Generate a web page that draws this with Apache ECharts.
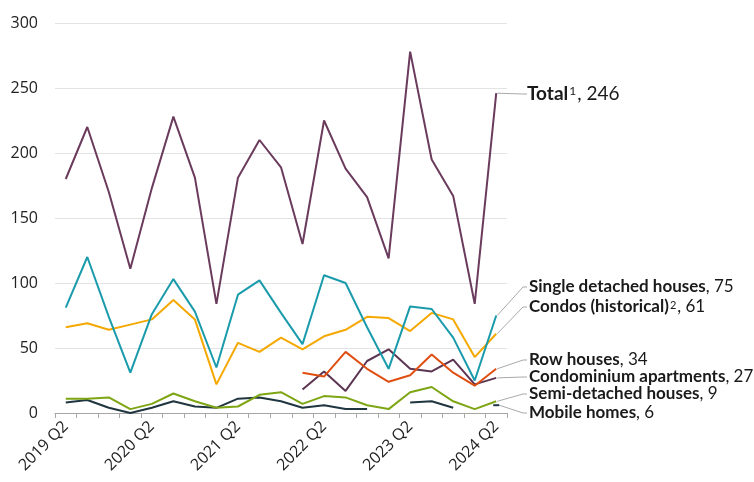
<!DOCTYPE html>
<html>
<head>
    <meta charset="utf-8">
    <title>ECharts</title>
    <style>
        html,body{
        width:100%;
        height:100%;
        overflow:hidden;
        padding:0;
        margin:0;
        background:#fff;
        }
        #main{
           width:754px;height:482px;
        }
    </style>
    <script src="https://cdn.jsdelivr.net/npm/echarts@6/dist/echarts.min.js"></script>
</head>
<body>
<div id="main"></div>

<script type="text/javascript">

    // quarters 2019 Q2 .. 2024 Q2
    var quarters = ['2019 Q2','2019 Q3','2019 Q4','2020 Q1','2020 Q2','2020 Q3','2020 Q4','2021 Q1','2021 Q2','2021 Q3','2021 Q4',
        '2022 Q1','2022 Q2','2022 Q3','2022 Q4','2023 Q1','2023 Q2','2023 Q3','2023 Q4','2024 Q1','2024 Q2'];
    var yTicks = [0, 50, 100, 150, 200, 250, 300];

    var total      = [180,220,170,111,173,228,181,84,181,210,189,130,225,188,166,119,278,195,167,84,246];
    var singleDet  = [81,120,74,31,76,103,78,35,91,102,77,53,106,100,66,34,82,80,58,25,75];
    var condosHist = [66,69,64,68,72,87,72,22,54,47,58,49,59,64,74,73,63,77,72,43,61];
    var rowHouses  = [null,null,null,null,null,null,null,null,null,null,null,31,28,47,34,24,29,45,31,21,34];
    var condoApts  = [null,null,null,null,null,null,null,null,null,null,null,18,32,17,40,49,34,32,41,22,27];
    var semiDet    = [11,11,12,3,7,15,9,4,5,14,16,7,13,12,6,3,16,20,9,3,9];
    var mobile     = [8,10,4,0,4,9,5,4,11,12,9,4,6,3,3,null,8,9,4,null,6];

    var AXIS_FONT = '"Open Sans", sans-serif';
    var LABEL_FONT = 'Lato, sans-serif';

    // label text, colour, label y position (px)
    var seriesDefs = [
        {data: total,      color: '#6a3b5c', bold: 'Total', sup: '1', val: 246, labelY: 94, size: 19},
        {data: singleDet,  color: '#1a9bab', bold: 'Single detached houses', sup: '', val: 75, labelY: 287, size: 17},
        {data: condosHist, color: '#f5a800', bold: 'Condos (historical)', sup: '2', val: 61, labelY: 307, size: 17},
        {data: rowHouses,  color: '#e04f12', bold: 'Row houses', sup: '', val: 34, labelY: 360, size: 17},
        {data: condoApts,  color: '#5c3552', bold: 'Condominium apartments', sup: '', val: 27, labelY: 377, size: 17},
        {data: semiDet,    color: '#7ea614', bold: 'Semi-detached houses', sup: '', val: 9, labelY: 394, size: 17},
        {data: mobile,     color: '#1f3540', bold: 'Mobile homes', sup: '', val: 6, labelY: 413, size: 17}
    ];

    var myChart = echarts.init(document.getElementById('main'), null, {renderer: 'canvas'});

    var series = seriesDefs.map(function (d, k) {
        var data = d.data.map(function (v, i) {
            // isolated last point of mobile homes is drawn as a short dash
            if (k === 6 && i === d.data.length - 1) {
                return {value: v, symbol: 'rect', symbolSize: [6, 2], itemStyle: {color: d.color}};
            }
            return v;
        });
        return {
            type: 'line',
            data: data,
            showSymbol: k === 6,
            symbol: k === 6 ? 'none' : 'emptyCircle',
            lineStyle: {color: d.color, width: 2},
            itemStyle: {color: d.color},
            connectNulls: false,
            animation: false,
            z: 10 - k
        };
    });

    var option = {
        animation: false,
        grid: {left: 55, right: 247, top: 23, bottom: 69},
        xAxis: {
            type: 'category',
            data: quarters,
            boundaryGap: true,
            axisLine: {lineStyle: {color: '#a6a6a6', width: 1}},
            axisTick: {show: true, interval: 0, length: 5, lineStyle: {color: '#a6a6a6'}},
            axisLabel: {
                interval: 3,
                rotate: 45,
                margin: 11,
                fontFamily: AXIS_FONT,
                fontSize: 16,
                color: '#222',
                formatter: function (v, i) { return i % 4 === 0 ? v : ''; }
            },
            splitLine: {show: false}
        },
        yAxis: {
            type: 'value',
            min: yTicks[0],
            max: yTicks[yTicks.length - 1],
            interval: 50,
            axisLine: {show: false},
            axisTick: {show: false},
            axisLabel: {fontFamily: AXIS_FONT, fontSize: 16, color: '#222', margin: 17},
            splitLine: {lineStyle: {color: '#e3e3e3', width: 1}}
        },
        series: series
    };

    myChart.setOption(option);

    // end labels with leader lines, placed from the library's own scales
    function addLabels() {
        var last = quarters.length - 1;
        var elems = [];
        seriesDefs.forEach(function (d, k) {
            var p = myChart.convertToPixel({xAxisIndex: 0, yAxisIndex: 0}, [quarters[last], d.val]);
            var ly = d.labelY;
            var elbowX = 523;
            var pts = [[p[0] + 1, p[1]], [elbowX, ly], [elbowX + 4, ly]];
            if (k === 6) pts[0] = [p[0] + 3, p[1]];
            elems.push({
                type: 'polyline',
                shape: {points: pts},
                style: {stroke: '#a9a9a9', lineWidth: 1, fill: null},
                z: 1
            });
            var txt = '{b|' + d.bold + '}' + (d.sup ? '{s|' + d.sup + '}' : '') + '{n|, ' + d.val + '}';
            elems.push({
                type: 'text',
                x: k === 0 ? elbowX + 4 : elbowX + 6,
                y: ly,
                style: {
                    text: txt,
                    verticalAlign: 'middle',
                    align: 'left',
                    rich: {
                        b: {fontFamily: LABEL_FONT, fontSize: d.size, fontWeight: 'bold', fill: '#1a1a1a'},
                        s: {fontFamily: LABEL_FONT, fontSize: Math.round(d.size * 0.62), fill: '#1a1a1a',
                            verticalAlign: 'top', padding: [1, 1, 0, 1]},
                        n: {fontFamily: LABEL_FONT, fontSize: d.size, fontWeight: 'normal', fill: '#1a1a1a'}
                    }
                },
                z: 2
            });
        });
        myChart.setOption({graphic: {elements: elems}});
    }
    addLabels();

</script>
</body>
</html>
